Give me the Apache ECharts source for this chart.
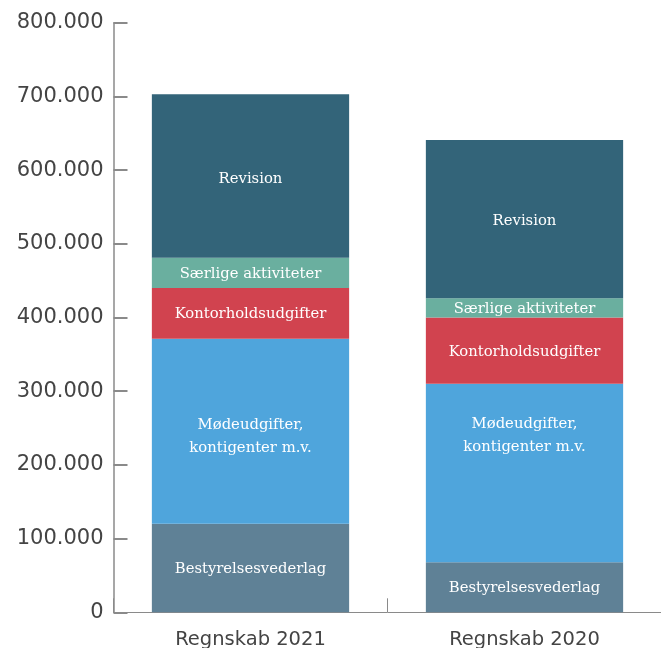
<!DOCTYPE html>
<html>
<head>
<meta charset="utf-8">
<script src="https://cdn.jsdelivr.net/npm/echarts@6/dist/echarts.min.js"></script>
<style>html,body{margin:0;padding:0;background:#fff;overflow:hidden;}#c{width:661px;height:648px;}</style>
</head>
<body>
<div id="c"></div>
<script>
const categories = ['Regnskab 2021', 'Regnskab 2020'];
const seriesNames = ['Bestyrelsesvederlag', 'Mødeudgifter,\nkontigenter m.v.', 'Kontorholdsudgifter', 'Særlige aktiviteter', 'Revision'];
const bestyrelse = [120000, 68000];
const moede = [251000, 242000];
const kontor = [69000, 90000];
const saerlige = [41000, 26000];
const revision = [222000, 215000];
const yTicks = [0, 100000, 200000, 300000, 400000, 500000, 600000, 700000, 800000];

const valueSets = [bestyrelse, moede, kontor, saerlige, revision];
const colors = ['#5f8196', '#4fa5dc', '#d1434f', '#6aaf9f', '#336479'];
// label nudges (presentation only)
const labelOffsets = [[[0,1],[0,1]], [[0,5],[0,-37]], [[0,1],[0,1]], [[0,1],[0,1]], [[0,3],[0,2]]];

const chart = echarts.init(document.getElementById('c'), null, {renderer: 'canvas', width: 661, height: 648});
const series = valueSets.map((vals, i) => ({
  name: seriesNames[i],
  type: 'bar',
  stack: 'total',
  barWidth: '72%',
  itemStyle: {color: colors[i]},
  label: {
    show: true,
    position: 'inside',
    formatter: seriesNames[i],
    color: '#fff',
    fontFamily: 'DejaVu Serif',
    fontSize: 14.8,
    lineHeight: 23
  },
  data: vals.map((v, j) => ({value: v, label: {offset: labelOffsets[i][j]}}))
}));

const axisFont = {color: '#444', fontFamily: 'DejaVu Sans', fontWeight: 'normal'};

chart.setOption({
  animation: false,
  grid: {left: 113.5, right: -0.5, top: 22.7, bottom: 35.7, containLabel: false, outerBoundsMode: 'none'},
  xAxis: {
    type: 'category',
    data: categories,
    axisLine: {lineStyle: {color: '#8a8a8a', width: 1}},
    axisTick: {show: true, inside: true, length: 14, alignWithLabel: false, lineStyle: {color: '#8a8a8a', width: 1}},
    axisLabel: Object.assign({margin: 18, fontSize: 19.5}, axisFont)
  },
  yAxis: {
    type: 'value',
    min: yTicks[0],
    max: yTicks[yTicks.length - 1],
    interval: yTicks[1] - yTicks[0],
    splitLine: {show: false},
    axisLine: {show: true, lineStyle: {color: '#8a8a8a', width: 1.5}},
    axisTick: {show: true, inside: true, length: 14, lineStyle: {color: '#8a8a8a', width: 2}},
    axisLabel: Object.assign({
      margin: 10, fontSize: 21,
      formatter: v => v === 0 ? '0' : String(v).replace(/\B(?=(\d{3})+(?!\d))/g, '.')
    }, axisFont)
  },
  series: series
});
</script>
</body>
</html>
